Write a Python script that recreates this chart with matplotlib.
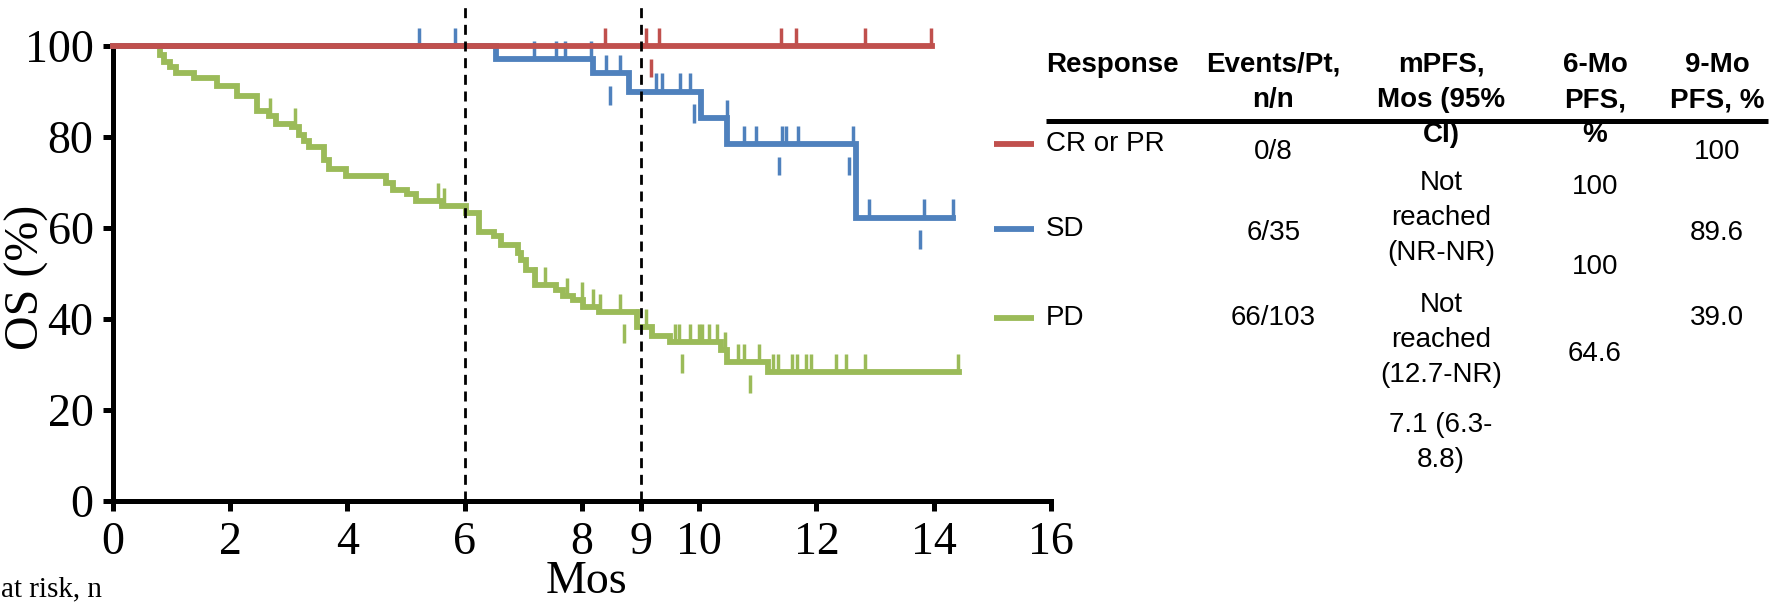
import numpy as np
import matplotlib
matplotlib.use("Agg")
import matplotlib.pyplot as plt
from matplotlib.lines import Line2D

# ---------------- data ----------------
groups = ["CR or PR", "SD", "PD"]
colors = ["#C0504D", "#4F81BD", "#9BBB59"]

cr_step_t = [0.0]
cr_step_s = [100.0]
cr_end = 13.97
cr_cens_up = [8.39, 9.09, 9.31, 11.40, 11.65, 12.83, 13.95]
cr_cens_down = [9.17]

sd_step_t = [0.0, 6.53, 8.19, 8.80, 10.03, 10.48, 12.68]
sd_step_s = [100.0, 97.1, 94.0, 90.0, 84.1, 78.5, 62.3]
sd_end = 14.32
sd_cens_up = [5.22, 5.84, 7.18, 7.56, 7.71, 8.16, 8.41, 8.64, 9.27, 9.36, 9.68,
              9.84, 10.47, 10.77, 10.96, 11.42, 11.48, 11.68, 12.63, 12.89,
              13.84, 14.32]
sd_cens_down = [8.48, 9.91, 11.36, 12.55, 13.77]

pd_step_t = [0.0, 0.80, 0.87, 0.98, 1.07, 1.38, 1.78, 2.12, 2.46, 2.66, 2.78,
             3.06, 3.17, 3.26, 3.34, 3.60, 3.69, 3.97, 4.65, 4.77, 5.02, 5.17,
             5.62, 6.02, 6.25, 6.50, 6.61, 6.90, 6.96, 7.04, 7.19, 7.55, 7.67,
             7.84, 8.01, 8.29, 8.94, 9.20, 9.50, 10.37, 10.48, 11.17]
pd_step_s = [100.0, 98.0, 96.5, 95.3, 94.1, 92.9, 91.2, 89.0, 85.8, 84.6, 82.9,
             82.3, 80.4, 79.2, 77.9, 74.9, 72.9, 71.4, 70.0, 68.4, 67.4, 66.0,
             64.8, 63.4, 59.2, 58.2, 56.3, 54.5, 53.0, 50.8, 47.5, 46.4, 45.1,
             44.2, 42.7, 41.6, 38.3, 36.3, 35.0, 33.2, 30.6, 28.4]
pd_end = 14.43
pd_cens_up = [2.68, 3.10, 5.55, 5.65, 7.20, 7.37, 7.74, 8.00, 8.18, 8.31, 8.65,
              8.94, 9.09, 9.59, 9.65, 9.84, 9.99, 10.05, 10.17, 10.30, 10.44,
              10.66, 10.77, 11.02, 11.25, 11.35, 11.58, 11.66, 11.82, 11.90,
              12.33, 12.50, 12.83, 14.42]
pd_cens_down = [8.71, 9.71, 10.86]

x_ticks = [0, 2, 4, 6, 8, 9, 10, 12, 14, 16]
y_ticks = [0, 20, 40, 60, 80, 100]
landmarks = [6, 9]

header_cols = ["Response", "Events/Pt,\nn/n", "mPFS,\nMos (95%\nCI)",
               "6-Mo\nPFS,\n%", "9-Mo\nPFS, %"]
events_col = ["0/8", "6/35", "66/103"]
mpfs_col = ["Not\nreached\n(NR-NR)", "Not\nreached\n(12.7-NR)", "7.1 (6.3-\n8.8)"]
pfs6_col = ["100", "100", "64.6"]
pfs9_col = ["100", "89.6", "39.0"]

# ---------------- figure ----------------
W, H = 1777, 605
fig = plt.figure(figsize=(W / 100, H / 100), dpi=100)


def fx(px):
    return px / W


def fy(py):
    return 1 - py / H


ax_l, ax_r, ax_t, ax_b = 113, 1051, 46, 501
ax = fig.add_axes([fx(ax_l), fy(ax_b), (ax_r - ax_l) / W, (ax_b - ax_t) / H])

serif = ["Liberation Serif", "DejaVu Serif"]
sans = ["Liberation Sans", "DejaVu Sans"]

series = [
    (cr_step_t, cr_step_s, cr_end, cr_cens_up, cr_cens_down),
    (sd_step_t, sd_step_s, sd_end, sd_cens_up, sd_cens_down),
    (pd_step_t, pd_step_s, pd_end, pd_cens_up, pd_cens_down),
]

# draw PD first, then SD, then CR on top
for idx in [2, 1, 0]:
    t, s, end, cu, cd = series[idx]
    t = np.asarray(t)
    s = np.asarray(s)
    col = colors[idx]
    z = 3 + (2 - idx)
    ax.step(np.append(t, end), np.append(s, s[-1]), where="post", color=col,
            lw=4.2, clip_on=False, zorder=z, solid_joinstyle="miter")
    cu = np.asarray(cu)
    su = s[np.searchsorted(t, cu, side="right") - 1]
    ax.vlines(cu, su, su + 4.0, color=col, lw=2.5, clip_on=False, zorder=z)
    cd = np.asarray(cd)
    sdn = s[np.searchsorted(t, cd, side="right") - 1]
    ax.vlines(cd, sdn - 2.8, sdn - 6.9, color=col, lw=2.5, clip_on=False, zorder=z)

for lm in landmarks:
    ax.vlines(lm, 0, 108.5, color="black", lw=2.0, linestyles=(0, (3.6, 2.4)),
              clip_on=False, zorder=10)

ax.set_xlim(0, 16)
ax.set_ylim(0, 100)
ax.set_xticks(x_ticks)
ax.set_yticks(y_ticks)
ax.set_xticklabels([str(v) for v in x_ticks], family=serif, fontsize=33)
ax.set_yticklabels([str(v) for v in y_ticks], family=serif, fontsize=33)
for sp in ["top", "right"]:
    ax.spines[sp].set_visible(False)
for sp in ["left", "bottom"]:
    ax.spines[sp].set_linewidth(3.6)
ax.tick_params(axis="both", direction="out", length=7, width=3.6)
ax.tick_params(axis="x", pad=8)
ax.tick_params(axis="y", pad=7)
ax.patch.set_visible(False)

fig.text(fx(27), fy(277), "OS (%)", rotation=90, ha="center", va="center",
         family=serif, fontsize=34.5)
fig.text(fx(586), fy(593), "Mos", ha="center", va="baseline",
         family=serif, fontsize=33)
fig.text(fx(1), fy(596), "at risk, n", ha="left", va="baseline",
         family=serif, fontsize=21)

# ---------------- table ----------------
fs = 20
line_gap = 35
col_x = [1046, 1273.5, 1441, 1595, 1717]


def put_lines(x, y_first, text, ha="center", weight="normal"):
    for i, ln in enumerate(text.split("\n")):
        fig.text(fx(x), fy(y_first + i * line_gap), ln, ha=ha, va="center",
                 family=sans, fontsize=fs, fontweight=weight)


for ci, htxt in enumerate(header_cols):
    put_lines(col_x[ci], 65, htxt, ha="left" if ci == 0 else "center", weight="bold")

fig.add_artist(Line2D([fx(1046), fx(1768)], [fy(121), fy(121)], color="black",
                      lw=3.6, solid_capstyle="butt"))

row_label_y = [144, 229, 318]
events_y = [152, 233, 318]
mpfs_y = [183, 305, 425]
pfs6_y = [187, 267, 354]
pfs9_y = [152, 233, 318]

for r in range(3):
    fig.add_artist(Line2D([fx(994), fx(1034)], [fy(row_label_y[r])] * 2,
                          color=colors[r], lw=4.2, solid_capstyle="butt"))
    put_lines(col_x[0], row_label_y[r], groups[r], ha="left")
    put_lines(col_x[1], events_y[r], events_col[r])
    put_lines(col_x[2], mpfs_y[r], mpfs_col[r])
    put_lines(col_x[3], pfs6_y[r], pfs6_col[r])
    put_lines(col_x[4], pfs9_y[r], pfs9_col[r])

fig.savefig("out.png", dpi=100)
